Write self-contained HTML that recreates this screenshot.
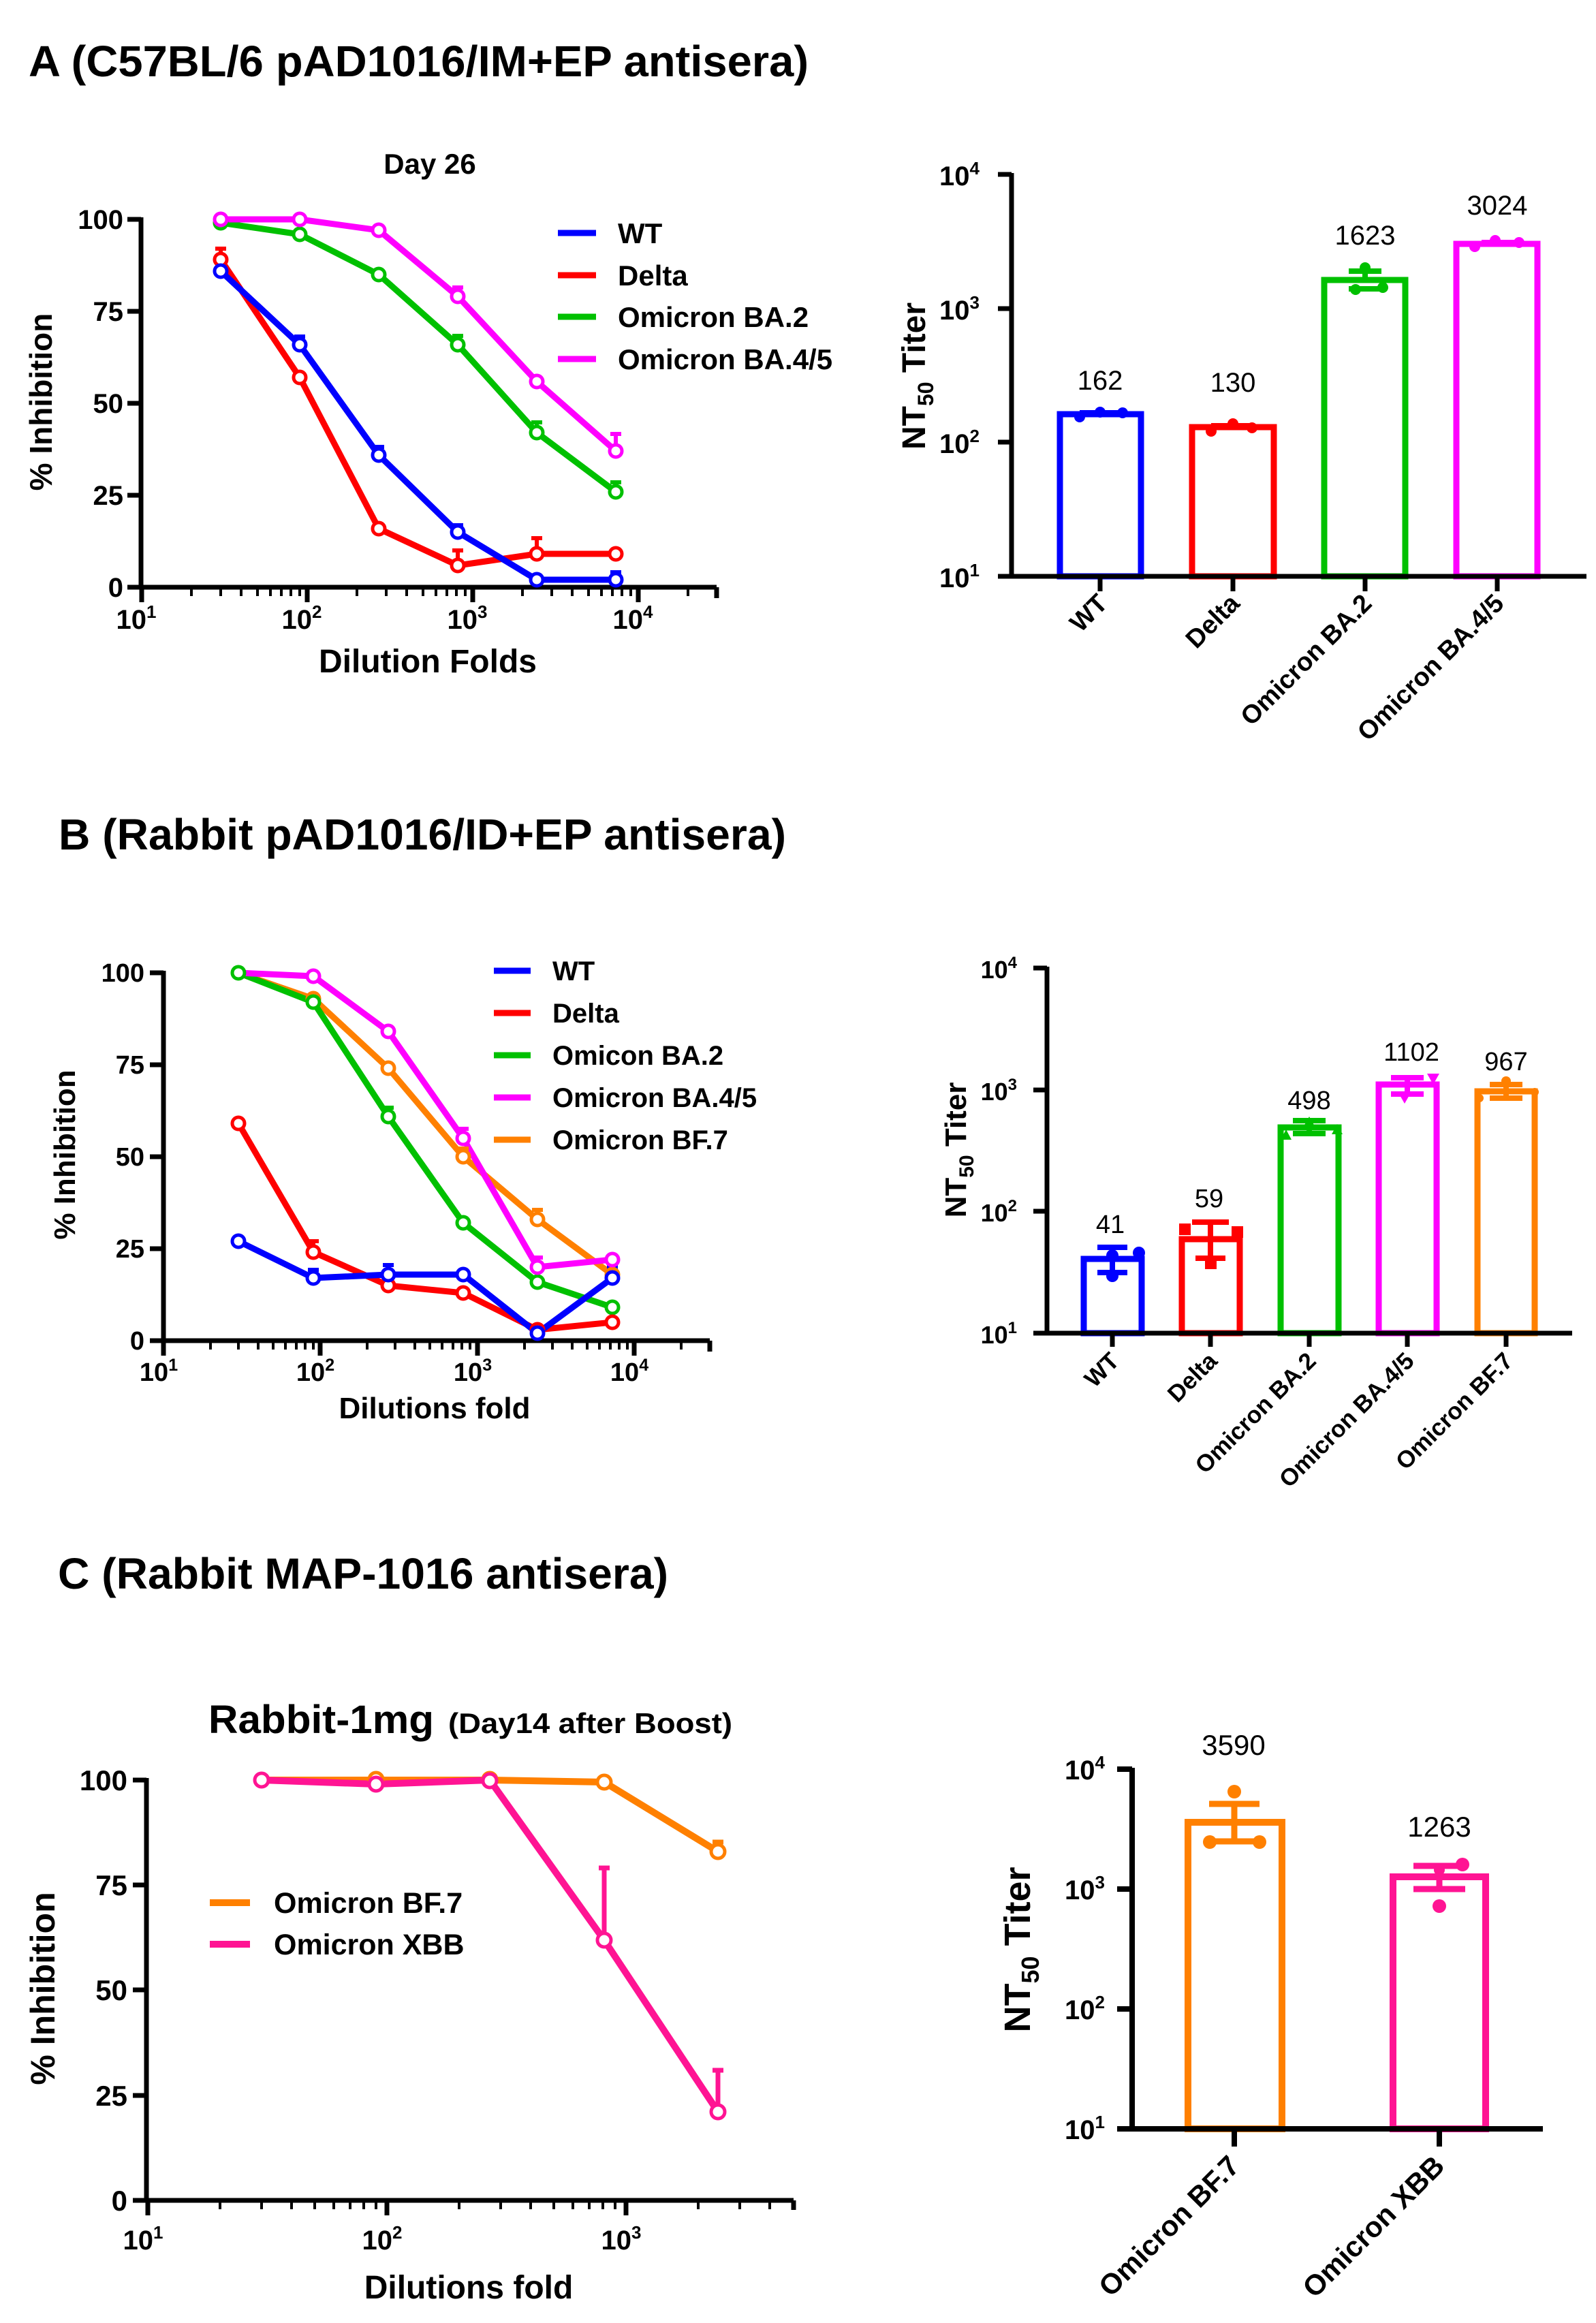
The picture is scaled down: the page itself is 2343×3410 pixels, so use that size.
<!DOCTYPE html>
<html><head><meta charset="utf-8"><style>
html,body{margin:0;padding:0;background:#fff}
svg{display:block}
text{font-family:"Liberation Sans",Arial,sans-serif}
.t{font-weight:bold}
</style></head><body>
<svg width="2343" height="3410" viewBox="0 0 2343 3410" xmlns="http://www.w3.org/2000/svg">
<rect width="2343" height="3410" fill="#fff"/>

<!-- ================= PANEL A ================= -->
<text x="42" y="112" font-size="64" class="t" textLength="1145" lengthAdjust="spacingAndGlyphs">A (C57BL/6 pAD1016/IM+EP antisera)</text>
<text x="631" y="255" font-size="42" class="t" text-anchor="middle">Day 26</text>

<g stroke="#000" stroke-width="7" fill="none">
<path d="M207 319 V865 M204 862 H1052"/>
<path d="M187 322H207 M187 457H207 M187 592H207 M187 727H207 M187 862H207"/>
<path d="M208 862v22 M451 862v22 M694 862v22 M937 862v22 M1052 862v16"/>
<path stroke-width="4" d="M281 862v13M324 862v13M354 862v13M378 862v13M397 862v13M413 862v13M427 862v13M440 862v13
M524 862v13M567 862v13M597 862v13M621 862v13M640 862v13M656 862v13M670 862v13M683 862v13
M767 862v13M810 862v13M840 862v13M864 862v13M883 862v13M899 862v13M913 862v13M926 862v13 M1010 862v13"/>
</g>
<g font-size="40" class="t" text-anchor="end">
<text x="181" y="336">100</text><text x="181" y="471">75</text><text x="181" y="606">50</text><text x="181" y="741">25</text><text x="181" y="876">0</text>
</g>
<g font-size="40" class="t" text-anchor="middle">
<text x="200" y="923">10<tspan dy="-16" font-size="26">1</tspan></text>
<text x="443" y="923">10<tspan dy="-16" font-size="26">2</tspan></text>
<text x="686" y="923">10<tspan dy="-16" font-size="26">3</tspan></text>
<text x="929" y="923">10<tspan dy="-16" font-size="26">4</tspan></text>
</g>
<text x="628" y="987" font-size="48" class="t" text-anchor="middle">Dilution Folds</text>
<text transform="translate(76,590) rotate(-90)" font-size="46" class="t" text-anchor="middle">% Inhibition</text>

<g fill="none" stroke-width="9" stroke-linejoin="round">
<polyline stroke="#ff0000" points="324,381 440,554 556,776 672,830 788,813 904,813"/>
<polyline stroke="#0000ff" points="324,398 440,506 556,668 672,781 788,851 904,851"/>
<polyline stroke="#00c000" points="324,327 440,344 556,403 672,506 788,635 904,722"/>
<polyline stroke="#ff00ff" points="324,322 440,322 556,338 672,435 788,560 904,662"/>
</g>
<g stroke-width="6" fill="none">
<path stroke="#ff0000" d="M324 381V365M316 365H332 M672 830V808M664 808H680 M788 813V790M780 790H796"/>
<path stroke="#0000ff" d="M440 506V494M432 494H448 M556 668V656M548 656H564 M672 781V771M664 771H680 M904 851V840M896 840H912"/>
<path stroke="#00c000" d="M672 506V493M664 493H680 M788 635V620M780 620H796 M904 722V708M896 708H912"/>
<path stroke="#ff00ff" d="M672 435V422M664 422H680 M904 662V637M896 637H912"/>
</g>
<g fill="#fff" stroke-width="5">
<g stroke="#ff0000"><circle cx="324" cy="381" r="9"/><circle cx="440" cy="554" r="9"/><circle cx="556" cy="776" r="9"/><circle cx="672" cy="830" r="9"/><circle cx="788" cy="813" r="9"/><circle cx="904" cy="813" r="9"/></g>
<g stroke="#0000ff"><circle cx="324" cy="398" r="9"/><circle cx="440" cy="506" r="9"/><circle cx="556" cy="668" r="9"/><circle cx="672" cy="781" r="9"/><circle cx="788" cy="851" r="9"/><circle cx="904" cy="851" r="9"/></g>
<g stroke="#00c000"><circle cx="324" cy="327" r="9"/><circle cx="440" cy="344" r="9"/><circle cx="556" cy="403" r="9"/><circle cx="672" cy="506" r="9"/><circle cx="788" cy="635" r="9"/><circle cx="904" cy="722" r="9"/></g>
<g stroke="#ff00ff"><circle cx="324" cy="322" r="9"/><circle cx="440" cy="322" r="9"/><circle cx="556" cy="338" r="9"/><circle cx="672" cy="435" r="9"/><circle cx="788" cy="560" r="9"/><circle cx="904" cy="662" r="9"/></g>
</g>
<g stroke-width="9">
<path stroke="#0000ff" d="M819 342H875"/><path stroke="#ff0000" d="M819 404H875"/>
<path stroke="#00c000" d="M819 465H875"/><path stroke="#ff00ff" d="M819 527H875"/>
</g>
<g font-size="42" class="t">
<text x="907" y="357">WT</text><text x="907" y="419">Delta</text><text x="907" y="480">Omicron BA.2</text><text x="907" y="542">Omicron BA.4/5</text>
</g>

<!-- Bar A -->
<g stroke-width="9" fill="#fff">
<rect x="1556" y="608" width="119" height="238" stroke="#0000ff"/>
<rect x="1750" y="627" width="120" height="219" stroke="#ff0000"/>
<rect x="1944" y="411" width="119" height="435" stroke="#00c000"/>
<rect x="2138" y="358" width="119" height="488" stroke="#ff00ff"/>
</g>
<g stroke-width="8">
<path stroke="#00c000" d="M2004 411V398M1980 398H2028M1980 424H2028"/>
<path stroke="#ff00ff" d="M2175 356H2237"/>
<path stroke="#0000ff" d="M1585 606H1648"/>
<path stroke="#ff0000" d="M1778 625H1838"/>
</g>
<g>
<circle cx="1585" cy="612" r="8" fill="#0000ff"/><circle cx="1615" cy="605" r="8" fill="#0000ff"/><circle cx="1648" cy="606" r="8" fill="#0000ff"/>
<circle cx="1778" cy="633" r="8" fill="#ff0000"/><circle cx="1810" cy="622" r="8" fill="#ff0000"/><circle cx="1838" cy="628" r="8" fill="#ff0000"/>
<circle cx="2004" cy="393" r="8" fill="#00c000"/><circle cx="1990" cy="425" r="8" fill="#00c000"/><circle cx="2030" cy="422" r="8" fill="#00c000"/>
<circle cx="2165" cy="362" r="8" fill="#ff00ff"/><circle cx="2195" cy="353" r="8" fill="#ff00ff"/><circle cx="2230" cy="356" r="8" fill="#ff00ff"/>
</g>
<g stroke="#000" stroke-width="7" fill="none">
<path d="M1485 254V849 M1482 846H2329"/>
<path d="M1465 256H1485 M1465 453H1485 M1465 649H1485 M1465 846H1485"/>
<path d="M1615 846v22 M1810 846v22 M2004 846v22 M2198 846v22"/>
</g>
<g font-size="40" class="t" text-anchor="end">
<text x="1438" y="272">10<tspan dy="-16" font-size="26">4</tspan></text>
<text x="1438" y="469">10<tspan dy="-16" font-size="26">3</tspan></text>
<text x="1438" y="665">10<tspan dy="-16" font-size="26">2</tspan></text>
<text x="1438" y="862">10<tspan dy="-16" font-size="26">1</tspan></text>
</g>
<text transform="translate(1358,552) rotate(-90)" font-size="48" class="t" text-anchor="middle">NT<tspan font-size="32" dy="12">50</tspan><tspan dy="-12"> Titer</tspan></text>
<g font-size="40" text-anchor="middle">
<text x="1615" y="572">162</text><text x="1810" y="575">130</text><text x="2004" y="359">1623</text><text x="2198" y="315">3024</text>
</g>
<g font-size="38" class="t" text-anchor="end">
<text transform="translate(1628,888) rotate(-45)">WT</text>
<text transform="translate(1822,888) rotate(-45)">Delta</text>
<text transform="translate(2016,888) rotate(-45)">Omicron BA.2</text>
<text transform="translate(2210,888) rotate(-45)">Omicron BA.4/5</text>
</g>

<!-- ================= PANEL B ================= -->
<text x="86" y="1247" font-size="64" class="t" textLength="1068" lengthAdjust="spacingAndGlyphs">B (Rabbit pAD1016/ID+EP antisera)</text>
<g stroke="#000" stroke-width="7" fill="none">
<path d="M240 1425V1971 M237 1968H1042"/>
<path d="M220 1428H240 M220 1563H240 M220 1698H240 M220 1833H240 M220 1968H240"/>
<path d="M240 1968v22 M470 1968v22 M701 1968v22 M931 1968v22 M1042 1968v16"/>
<path stroke-width="4" d="M309 1968v13M350 1968v13M379 1968v13M401 1968v13M419 1968v13M435 1968v13M448 1968v13M460 1968v13
M539 1968v13M580 1968v13M609 1968v13M631 1968v13M649 1968v13M665 1968v13M678 1968v13M690 1968v13
M770 1968v13M811 1968v13M840 1968v13M862 1968v13M880 1968v13M896 1968v13M909 1968v13M921 1968v13 M1000 1968v13"/>
</g>
<g font-size="38" class="t" text-anchor="end">
<text x="212" y="1441">100</text><text x="212" y="1576">75</text><text x="212" y="1711">50</text><text x="212" y="1846">25</text><text x="212" y="1981">0</text>
</g>
<g font-size="38" class="t" text-anchor="middle">
<text x="233" y="2027">10<tspan dy="-15" font-size="25">1</tspan></text>
<text x="463" y="2027">10<tspan dy="-15" font-size="25">2</tspan></text>
<text x="694" y="2027">10<tspan dy="-15" font-size="25">3</tspan></text>
<text x="924" y="2027">10<tspan dy="-15" font-size="25">4</tspan></text>
</g>
<text x="638" y="2082" font-size="44" class="t" text-anchor="middle">Dilutions fold</text>
<text transform="translate(110,1695) rotate(-90)" font-size="44" class="t" text-anchor="middle">% Inhibition</text>

<g fill="none" stroke-width="9" stroke-linejoin="round">
<polyline stroke="#ff8000" points="350,1428 460,1466 570,1568 680,1698 789,1790 899,1871"/>
<polyline stroke="#00c000" points="350,1428 460,1471 570,1639 680,1795 789,1882 899,1919"/>
<polyline stroke="#ff00ff" points="350,1428 460,1433 570,1514 680,1671 789,1860 899,1849"/>
<polyline stroke="#ff0000" points="350,1649 460,1838 570,1887 680,1898 789,1952 899,1941"/>
<polyline stroke="#0000ff" points="350,1822 460,1876 570,1871 680,1871 789,1957 899,1876"/>
</g>
<g stroke-width="6" fill="none">
<path stroke="#ff0000" d="M460 1838V1822M452 1822H468"/>
<path stroke="#0000ff" d="M460 1876V1864M452 1864H468 M570 1871V1857M562 1857H578 M899 1876V1860M891 1860H907"/>
<path stroke="#00c000" d="M570 1639V1626M562 1626H578"/>
<path stroke="#ff00ff" d="M680 1671V1657M672 1657H688 M789 1860V1846M781 1846H797"/>
<path stroke="#ff8000" d="M789 1790V1776M781 1776H797 M680 1698V1686M672 1686H688"/>
</g>
<g fill="#fff" stroke-width="5">
<g stroke="#ff8000"><circle cx="460" cy="1466" r="9"/><circle cx="570" cy="1568" r="9"/><circle cx="680" cy="1698" r="9"/><circle cx="789" cy="1790" r="9"/><circle cx="899" cy="1871" r="9"/></g>
<g stroke="#00c000"><circle cx="350" cy="1428" r="9"/><circle cx="460" cy="1471" r="9"/><circle cx="570" cy="1639" r="9"/><circle cx="680" cy="1795" r="9"/><circle cx="789" cy="1882" r="9"/><circle cx="899" cy="1919" r="9"/></g>
<g stroke="#ff00ff"><circle cx="460" cy="1433" r="9"/><circle cx="570" cy="1514" r="9"/><circle cx="680" cy="1671" r="9"/><circle cx="789" cy="1860" r="9"/><circle cx="899" cy="1849" r="9"/></g>
<g stroke="#ff0000"><circle cx="350" cy="1649" r="9"/><circle cx="460" cy="1838" r="9"/><circle cx="570" cy="1887" r="9"/><circle cx="680" cy="1898" r="9"/><circle cx="789" cy="1952" r="9"/><circle cx="899" cy="1941" r="9"/></g>
<g stroke="#0000ff"><circle cx="350" cy="1822" r="9"/><circle cx="460" cy="1876" r="9"/><circle cx="570" cy="1871" r="9"/><circle cx="680" cy="1871" r="9"/><circle cx="789" cy="1957" r="9"/><circle cx="899" cy="1876" r="9"/></g>
</g>
<g stroke-width="9">
<path stroke="#0000ff" d="M725 1425H779"/><path stroke="#ff0000" d="M725 1487H779"/><path stroke="#00c000" d="M725 1549H779"/>
<path stroke="#ff00ff" d="M725 1611H779"/><path stroke="#ff8000" d="M725 1673H779"/>
</g>
<g font-size="40" class="t">
<text x="811" y="1439">WT</text><text x="811" y="1501">Delta</text><text x="811" y="1563">Omicon BA.2</text><text x="811" y="1625">Omicron BA.4/5</text><text x="811" y="1687">Omicron BF.7</text>
</g>

<!-- Bar B -->
<g stroke-width="9" fill="#fff">
<rect x="1591" y="1848" width="85" height="109" stroke="#0000ff"/>
<rect x="1735" y="1819" width="85" height="138" stroke="#ff0000"/>
<rect x="1880" y="1655" width="85" height="302" stroke="#00c000"/>
<rect x="2024" y="1592" width="85" height="365" stroke="#ff00ff"/>
<rect x="2169" y="1602" width="84" height="355" stroke="#ff8000"/>
</g>
<g stroke-width="8" fill="none">
<path stroke="#0000ff" d="M1633 1831V1868M1611 1831H1655M1611 1868H1655"/>
<path stroke="#ff0000" d="M1777 1794V1847M1750 1794H1804M1755 1847H1799"/>
<path stroke="#00c000" d="M1922 1645V1668M1898 1645H1946M1898 1664H1946"/>
<path stroke="#ff00ff" d="M2066 1582V1606M2042 1582H2090M2042 1606H2090"/>
<path stroke="#ff8000" d="M2211 1592V1612M2187 1592H2235M2187 1612H2235"/>
</g>
<g>
<circle cx="1672" cy="1839" r="9" fill="#0000ff"/><circle cx="1633" cy="1843" r="9" fill="#0000ff"/><circle cx="1633" cy="1873" r="9" fill="#0000ff"/>
<rect x="1731" y="1796" width="17" height="17" fill="#ff0000"/><rect x="1808" y="1800" width="17" height="17" fill="#ff0000"/><rect x="1769" y="1846" width="17" height="17" fill="#ff0000"/>
<path d="M1880 1673l8-15 8 15z M1914 1653l8-14 8 14z M1955 1665l8-15 8 15z" fill="#00c000"/>
<path d="M2054 1606l8 14 8-14z M2095 1576l9 16 9-16z" fill="#ff00ff"/>
<circle cx="2172" cy="1612" r="6" fill="#ff8000"/><circle cx="2211" cy="1587" r="7" fill="#ff8000"/><circle cx="2253" cy="1603" r="6" fill="#ff8000"/>
</g>
<g stroke="#000" stroke-width="7" fill="none">
<path d="M1537 1419V1960 M1534 1957H2308"/>
<path d="M1517 1421H1537 M1517 1600H1537 M1517 1778H1537 M1517 1957H1537"/>
<path d="M1633 1957v20 M1777 1957v20 M1922 1957v20 M2066 1957v20 M2211 1957v20"/>
</g>
<g font-size="36" class="t" text-anchor="end">
<text x="1493" y="1436">10<tspan dy="-15" font-size="24">4</tspan></text>
<text x="1493" y="1615">10<tspan dy="-15" font-size="24">3</tspan></text>
<text x="1493" y="1793">10<tspan dy="-15" font-size="24">2</tspan></text>
<text x="1493" y="1972">10<tspan dy="-15" font-size="24">1</tspan></text>
</g>
<text transform="translate(1418,1688) rotate(-90)" font-size="44" class="t" text-anchor="middle">NT<tspan font-size="30" dy="11">50</tspan><tspan dy="-11"> Titer</tspan></text>
<g font-size="38" text-anchor="middle">
<text x="1630" y="1810">41</text><text x="1775" y="1772">59</text><text x="1922" y="1628">498</text><text x="2072" y="1557">1102</text><text x="2211" y="1571">967</text>
</g>
<g font-size="35" class="t" text-anchor="end">
<text transform="translate(1645,2000) rotate(-45)">WT</text>
<text transform="translate(1789,2000) rotate(-45)">Delta</text>
<text transform="translate(1934,2000) rotate(-45)">Omicron BA.2</text>
<text transform="translate(2078,2000) rotate(-45)">Omicron BA.4/5</text>
<text transform="translate(2223,2000) rotate(-45)">Omicron BF.7</text>
</g>

<!-- ================= PANEL C ================= -->
<text x="85" y="2332" font-size="64" class="t" textLength="896" lengthAdjust="spacingAndGlyphs">C (Rabbit MAP-1016 antisera)</text>
<text x="306" y="2544" font-size="58" class="t" textLength="331" lengthAdjust="spacingAndGlyphs">Rabbit-1mg</text>
<text x="658" y="2544" font-size="42" class="t" textLength="417" lengthAdjust="spacingAndGlyphs">(Day14 after Boost)</text>

<g stroke="#000" stroke-width="7" fill="none">
<path d="M215 2610V3233 M212 3230H1165"/>
<path d="M195 2613H215 M195 2767H215 M195 2921H215 M195 3076H215 M195 3230H215"/>
<path d="M217 3230v22 M568 3230v22 M919 3230v22 M1165 3230v14"/>
<path stroke-width="4" d="M323 3230v13M384 3230v13M428 3230v13M462 3230v13M490 3230v13M514 3230v13M534 3230v13M552 3230v13
M674 3230v13M735 3230v13M779 3230v13M813 3230v13M841 3230v13M865 3230v13M885 3230v13M903 3230v13
M1025 3230v13M1086 3230v13M1130 3230v13"/>
</g>
<g font-size="42" class="t" text-anchor="end">
<text x="187" y="2628">100</text><text x="187" y="2782">75</text><text x="187" y="2936">50</text><text x="187" y="3091">25</text><text x="187" y="3245">0</text>
</g>
<g font-size="40" class="t" text-anchor="middle">
<text x="210" y="3302">10<tspan dy="-16" font-size="26">1</tspan></text>
<text x="561" y="3302">10<tspan dy="-16" font-size="26">2</tspan></text>
<text x="912" y="3302">10<tspan dy="-16" font-size="26">3</tspan></text>
</g>
<text x="688" y="3374" font-size="48" class="t" text-anchor="middle">Dilutions fold</text>
<text transform="translate(80,2919) rotate(-90)" font-size="50" class="t" text-anchor="middle">% Inhibition</text>

<g fill="none" stroke-width="10" stroke-linejoin="round">
<polyline stroke="#ff8000" points="384,2613 552,2613 719,2613 887,2616 1054,2718"/>
<polyline stroke="#ff1493" points="384,2613 552,2619 719,2613 887,2848 1054,3100"/>
</g>
<g stroke-width="7" fill="none">
<path stroke="#ff8000" d="M1054 2718V2704M1046 2704H1062"/>
<path stroke="#ff1493" d="M887 2848V2742M879 2742H895 M1054 3100V3039M1046 3039H1062"/>
</g>
<g fill="#fff" stroke-width="5">
<g stroke="#ff8000"><circle cx="552" cy="2612" r="10"/><circle cx="719" cy="2612" r="10"/><circle cx="887" cy="2616" r="10"/><circle cx="1054" cy="2718" r="10"/></g>
<g stroke="#ff1493"><circle cx="384" cy="2613" r="10"/><circle cx="552" cy="2619" r="10"/><circle cx="719" cy="2614" r="10"/><circle cx="887" cy="2848" r="10"/><circle cx="1054" cy="3100" r="10"/></g>
</g>
<g stroke-width="10">
<path stroke="#ff8000" d="M308 2793H367"/><path stroke="#ff1493" d="M308 2854H367"/>
</g>
<g font-size="43" class="t">
<text x="402" y="2808">Omicron BF.7</text><text x="402" y="2869">Omicron XBB</text>
</g>

<!-- Bar C -->
<g stroke-width="10" fill="#fff">
<rect x="1744" y="2675" width="138" height="450" stroke="#ff8000"/>
<rect x="2045" y="2755" width="136" height="370" stroke="#ff1493"/>
</g>
<g stroke-width="9" fill="none">
<path stroke="#ff8000" d="M1812 2648V2703M1775 2648H1849M1775 2703H1849"/>
<path stroke="#ff1493" d="M2113 2739V2773M2075 2739H2151M2075 2773H2151"/>
</g>
<g>
<circle cx="1812" cy="2630" r="10" fill="#ff8000"/><circle cx="1776" cy="2704" r="10" fill="#ff8000"/><circle cx="1849" cy="2704" r="10" fill="#ff8000"/>
<circle cx="2147" cy="2737" r="10" fill="#ff1493"/><circle cx="2113" cy="2745" r="8" fill="#ff1493"/><circle cx="2113" cy="2798" r="10" fill="#ff1493"/>
</g>
<g stroke="#000" stroke-width="8" fill="none">
<path d="M1662 2595V3129 M1658 3125H2265"/>
<path d="M1640 2597H1662 M1640 2773H1662 M1640 2949H1662 M1640 3125H1662"/>
<path d="M1812 3125v26 M2113 3125v26"/>
</g>
<g font-size="40" class="t" text-anchor="end">
<text x="1622" y="2612">10<tspan dy="-16" font-size="26">4</tspan></text>
<text x="1622" y="2788">10<tspan dy="-16" font-size="26">3</tspan></text>
<text x="1622" y="2964">10<tspan dy="-16" font-size="26">2</tspan></text>
<text x="1622" y="3140">10<tspan dy="-16" font-size="26">1</tspan></text>
</g>
<text transform="translate(1512,2862) rotate(-90)" font-size="54" class="t" text-anchor="middle">NT<tspan font-size="36" dy="13">50</tspan><tspan dy="-13"> Titer</tspan></text>
<g font-size="42" text-anchor="middle">
<text x="1811" y="2576">3590</text><text x="2113" y="2696">1263</text>
</g>
<g font-size="42" class="t" text-anchor="end">
<text transform="translate(1822,3182) rotate(-45)">Omicron BF.7</text>
<text transform="translate(2123,3182) rotate(-45)">Omicron XBB</text>
</g>
</svg>
</body></html>
